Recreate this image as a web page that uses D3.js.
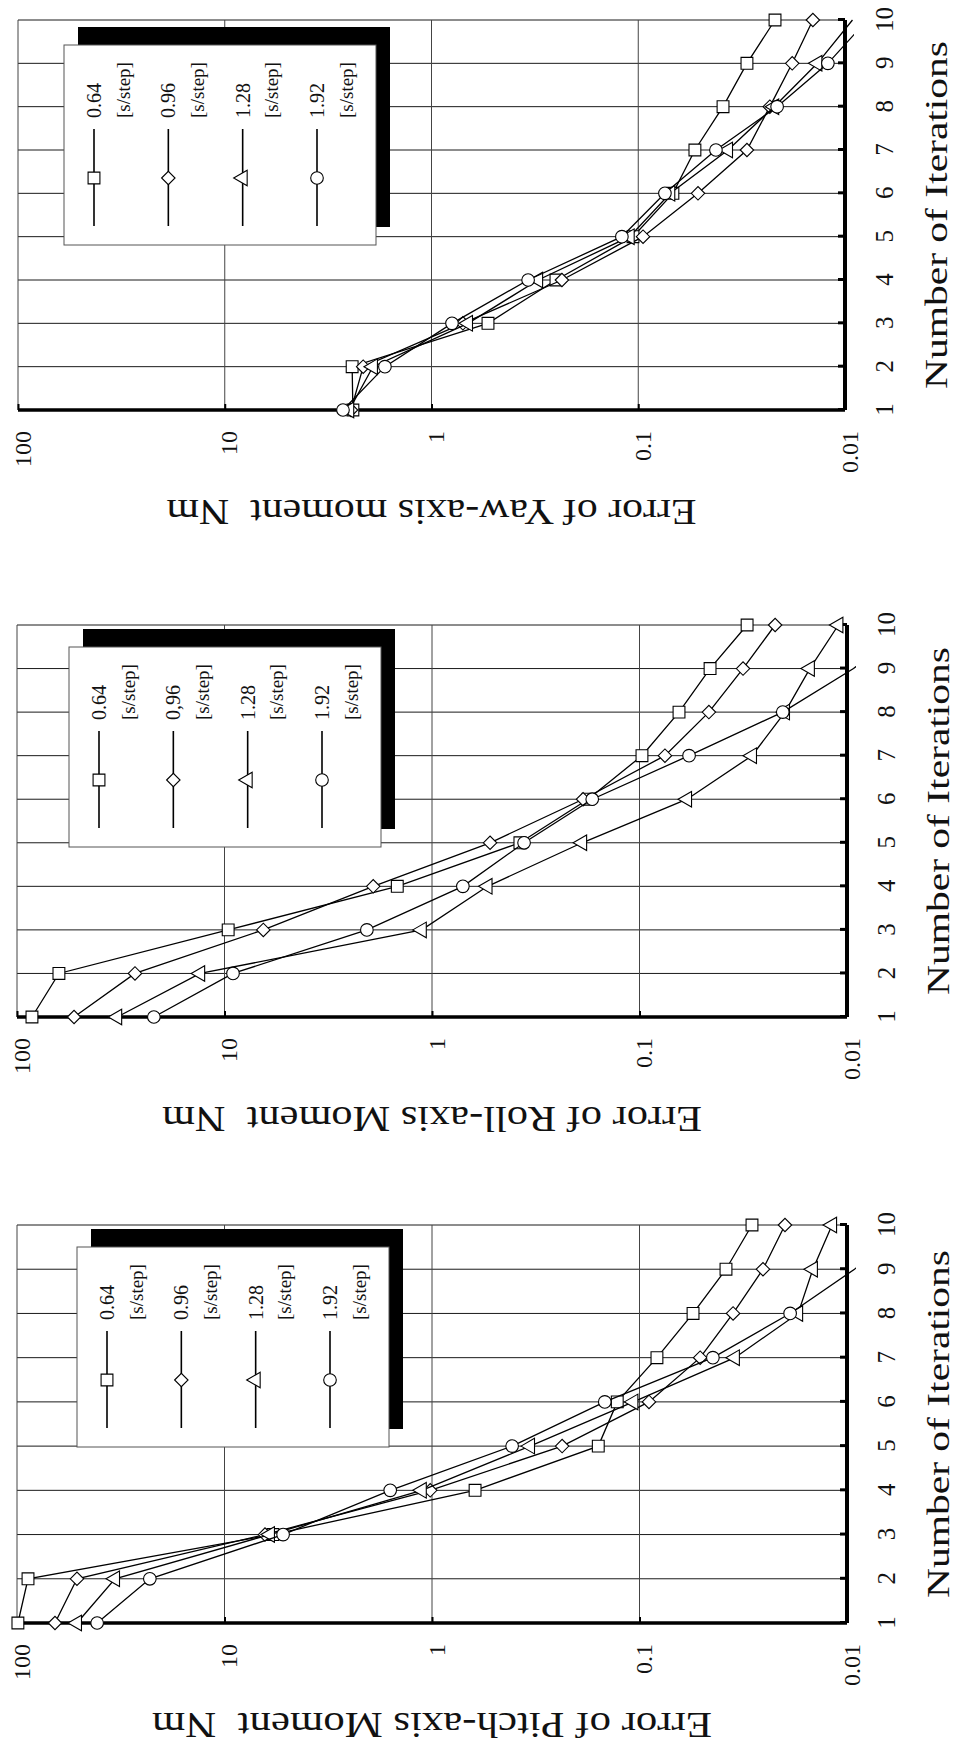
<!DOCTYPE html>
<html>
<head>
<meta charset="utf-8">
<script src="https://cdn.jsdelivr.net/npm/d3@7"></script>
<style>
    body { margin: 0; background: #fff; }
    svg text { font-family: 'Liberation Serif', 'Times New Roman', serif; fill: #111; }
</style>
</head>
<body>
<svg id="chart" width="960" height="1747"></svg>
<script>
const iterations = [1, 2, 3, 4, 5, 6, 7, 8, 9, 10];
const stepLabels = ['0.64', '0.96', '1.28', '1.92'];
const rollStepLabels = ['0.64', '0,96', '1.28', '1.92']; // comma as printed in the original
const stepUnit = '[s/step]';
const valueTicks = [100, 10, 1, 0.1, 0.01];
const markerShapes = ['square', 'diamond', 'triangle', 'circle'];

// Yaw-axis moment error [Nm]
const yaw064 = [2.40, 2.42, 0.533, 0.250, 0.106, 0.0680, 0.0532, 0.0389, 0.0298, 0.0218];
const yaw096 = [2.45, 2.14, 0.705, 0.234, 0.0948, 0.0514, 0.0298, 0.0231, 0.0180, 0.0143];
const yaw128 = [2.50, 1.92, 0.666, 0.305, 0.110, 0.0700, 0.0368, 0.0220, 0.0136, 0.0092];
const yaw192 = [2.68, 1.68, 0.796, 0.341, 0.120, 0.0743, 0.0421, 0.0213, 0.0121, 0.0078];

// Roll-axis moment error [Nm]
const roll064 = [84.7, 62.8, 9.6, 1.47, 0.377, 0.177, 0.0973, 0.0645, 0.0457, 0.0303];
const roll096 = [53.1, 27.0, 6.5, 1.92, 0.525, 0.187, 0.0754, 0.0463, 0.0317, 0.0222];
const roll128 = [32.9, 13.1, 1.12, 0.54, 0.189, 0.059, 0.0287, 0.0199, 0.0151, 0.0110];
const roll192 = [21.9, 9.1, 2.06, 0.71, 0.360, 0.169, 0.0577, 0.0204, 0.0093, 0.0050];

// Pitch-axis moment error [Nm]
const pitch064 = [99, 88.5, 5.84, 0.62, 0.158, 0.128, 0.0824, 0.0552, 0.0383, 0.0287];
const pitch096 = [65.6, 51.4, 6.38, 1.02, 0.236, 0.090, 0.051, 0.0354, 0.0254, 0.0199];
const pitch128 = [51.4, 33.7, 6.04, 1.12, 0.337, 0.107, 0.0347, 0.0172, 0.0146, 0.0118];
const pitch192 = [41.1, 22.9, 5.22, 1.59, 0.411, 0.147, 0.0443, 0.0188, 0.0092, 0.0050];

// the page is the original figure turned a quarter turn; frame = plot box on the page
const panels = [
    {
        id: 'yaw', title: 'Error of Yaw-axis moment  Nm', titleLength: 530, labels: stepLabels,
        series: [yaw064, yaw096, yaw128, yaw192],
        frame: {left: 18, right: 845, top: 20, bottom: 410}, legend: {left: 46, top: 25}
    },
    {
        id: 'roll', title: 'Error of Roll-axis Moment  Nm', titleLength: 540, labels: rollStepLabels,
        series: [roll064, roll096, roll128, roll192],
        frame: {left: 17, right: 847, top: 625, bottom: 1017}, legend: {left: 52, top: 22}
    },
    {
        id: 'pitch', title: 'Error of Pitch-axis Moment  Nm', titleLength: 560, labels: stepLabels,
        series: [pitch064, pitch096, pitch128, pitch192],
        frame: {left: 17, right: 847, top: 1225, bottom: 1623}, legend: {left: 60, top: 22}
    }
];

const symbolTypes = {
    square: d3.symbolSquare,
    diamond: d3.symbolDiamond2 || d3.symbolDiamond,
    triangle: d3.symbolTriangle,
    circle: d3.symbolCircle
};
const symbolSizes = {square: 140, diamond: 115, triangle: 105, circle: 125};

const svg = d3.select('#chart');

const drawMarker = function drawMarker(sel, shape) {
    sel.attr('d', d3.symbol().type(symbolTypes[shape]).size(symbolSizes[shape])())
        .attr('fill', '#fff')
        .attr('stroke', '#000')
        .attr('stroke-width', 1.1);
};

const drawPanel = function drawPanel(p) {
    // drawn in the original (unrotated) orientation, then turned -90deg
    const W = p.frame.bottom - p.frame.top;  // iteration axis length
    const H = p.frame.right - p.frame.left;  // error axis length

    const x = d3.scaleLinear().domain([1, 10]).range([0, W]);
    const y = d3.scaleLog().domain([100, 0.01]).range([0, H]);

    const g = svg.append('g')
        .attr('transform', 'translate(' + p.frame.left + ',' + p.frame.bottom + ') rotate(-90)');

    // grid
    g.append('g').selectAll('line')
        .data(iterations.slice(1))
        .enter()
    .append('line')
        .attr('x1', (d) => { return x(d) })
        .attr('x2', (d) => { return x(d) })
        .attr('y1', 0)
        .attr('y2', H)
        .attr('stroke', '#1a1a1a')
        .attr('stroke-width', 1);

    g.append('g').selectAll('line')
        .data(valueTicks.slice(0, 4))
        .enter()
    .append('line')
        .attr('x1', 0)
        .attr('x2', W)
        .attr('y1', (d) => { return y(d) })
        .attr('y2', (d) => { return y(d) })
        .attr('stroke', '#444')
        .attr('stroke-width', 1);

    // axes
    g.append('g')
        .attr('transform', 'translate(0,' + H + ')')
        .call(d3.axisBottom(x).tickValues(iterations).tickFormat(d3.format('d')).tickSize(-7).tickPadding(30))
        .call((a) => { a.select('.domain').remove() })
        .call((a) => { a.selectAll('line').attr('stroke', '#000').attr('stroke-width', 3) })
        .call((a) => { a.selectAll('text').attr('font-size', 25).attr('fill', '#111') });

    g.append('g')
        .call(d3.axisLeft(y).tickValues(valueTicks).tickFormat((d) => { return String(d) }).tickSize(-6).tickPadding(21))
        .call((a) => { a.select('.domain').remove() })
        .call((a) => { a.selectAll('line').attr('stroke', '#000').attr('stroke-width', 2) })
        .call((a) => { a.selectAll('text').attr('font-size', 24).attr('dy', '0.5em').attr('fill', '#111') });

    // legend with drop shadow
    const lg = g.append('g')
        .attr('transform', 'translate(' + (W - p.legend.top - 200) + ',' + p.legend.left + ')');
    lg.append('rect')
        .attr('x', 18).attr('y', 14)
        .attr('width', 200).attr('height', 312)
        .attr('fill', '#000');
    lg.append('rect')
        .attr('width', 200).attr('height', 312)
        .attr('fill', '#fff')
        .attr('stroke', '#555')
        .attr('stroke-width', 1);

    const rowY = d3.scalePoint().domain(d3.range(4)).range([30, 253]);
    const rows = lg.selectAll('.row')
        .data(markerShapes)
        .enter()
    .append('g')
        .attr('class', 'row')
        .attr('transform', (d, i) => { return 'translate(0,' + rowY(i) + ')' });
    rows.append('line')
        .attr('x1', 19).attr('x2', 116)
        .attr('stroke', '#000')
        .attr('stroke-width', 1.6);
    rows.append('path')
        .attr('transform', 'translate(67,0)')
        .each(function(d) { drawMarker(d3.select(this), d) });
    rows.append('text')
        .attr('x', 127)
        .attr('dy', '0.35em')
        .attr('font-size', 20)
        .text((d, i) => { return p.labels[i] });
    rows.append('text')
        .attr('x', 127)
        .attr('y', 29)
        .attr('dy', '0.35em')
        .attr('font-size', 19)
        .text(stepUnit);

    // bold axis lines
    g.append('line')
        .attr('x1', 0).attr('x2', 0).attr('y1', 0).attr('y2', H)
        .attr('stroke', '#000').attr('stroke-width', 3.5);
    g.append('line')
        .attr('x1', 0).attr('x2', W).attr('y1', H).attr('y2', H)
        .attr('stroke', '#000').attr('stroke-width', 4);

    // series (lines run a little past the 0.01 axis, as in the print)
    g.append('clipPath')
        .attr('id', 'clip-' + p.id)
    .append('rect')
        .attr('x', -3).attr('y', -3)
        .attr('width', W + 6).attr('height', H + 12);

    const line = d3.line()
        .x((d, i) => { return x(iterations[i]) })
        .y((d) => { return y(d) });

    const series = g.selectAll('.series')
        .data(p.series)
        .enter()
    .append('g')
        .attr('class', 'series');

    series.append('path')
        .attr('clip-path', 'url(#clip-' + p.id + ')')
        .attr('d', (d) => { return line(d) })
        .attr('fill', 'none')
        .attr('stroke', '#000')
        .attr('stroke-width', 1.3);

    series.each(function(values, k) {
        d3.select(this).selectAll('path.mark')
            .data(values.map((v, i) => { return {it: iterations[i], v: v} }).filter((d) => { return d.v >= 0.01 }))
            .enter()
        .append('path')
            .attr('class', 'mark')
            .attr('transform', (d) => { return 'translate(' + x(d.it) + ',' + y(d.v) + ')' })
            .each(function() { drawMarker(d3.select(this), markerShapes[k]) });
    });

    // titles
    g.append('text')
        .attr('x', W / 2)
        .attr('y', H + 102)
        .attr('text-anchor', 'middle')
        .attr('font-size', 32)
        .attr('textLength', 348)
        .attr('lengthAdjust', 'spacingAndGlyphs')
        .text('Number of Iterations');

    g.append('text')
        .attr('transform', 'translate(-90,' + (H / 2) + ') rotate(-90)')
        .attr('text-anchor', 'middle')
        .attr('font-size', 35)
        .attr('textLength', p.titleLength)
        .attr('lengthAdjust', 'spacingAndGlyphs')
        .style('white-space', 'pre')
        .text(p.title);
};

panels.forEach(drawPanel);
</script>
</body>
</html>
